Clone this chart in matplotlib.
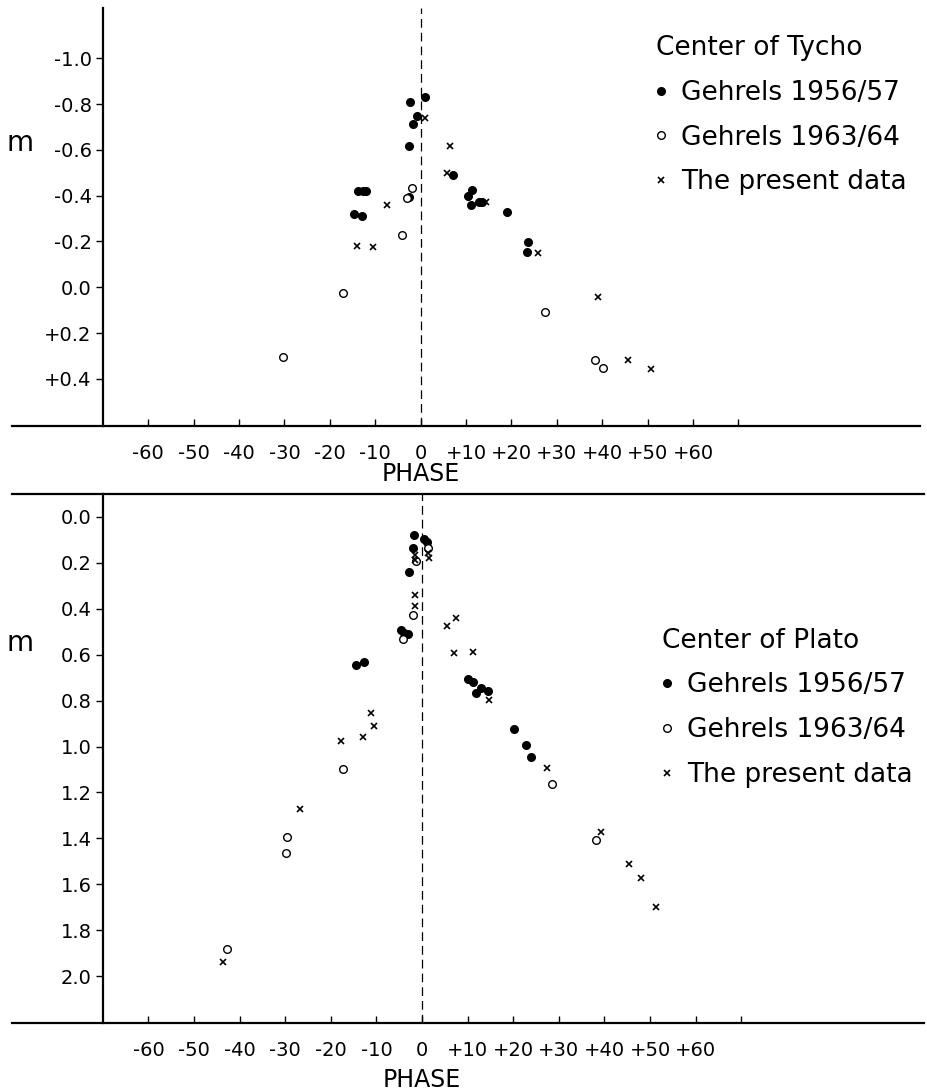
import numpy as np
import matplotlib.pyplot as plt

plt.rcParams['font.family'] = ['DejaVu Sans']

# Center of Tycho
tycho_57_x = [-2.3, 0.9, -0.8, -1.7, -2.6, -13.7, -12.7, -12.0, -14.7, -12.8, -2.6, 7.1,
              10.4, 11.4, 11.1, 12.8, 13.6, 19.1, 23.7, 23.4]
tycho_57_y = [-0.81, -0.83, -0.75, -0.715, -0.615, -0.42, -0.42, -0.42, -0.32, -0.31, -0.395, -0.49,
              -0.40, -0.425, -0.36, -0.373, -0.373, -0.327, -0.196, -0.154]
tycho_64_x = [-2.0, -3.1, -4.0, -17.2, -30.4, 27.3, 38.5, 40.2]
tycho_64_y = [-0.435, -0.39, -0.23, 0.026, 0.306, 0.11, 0.317, 0.351]
tycho_new_x = [1.0, 6.4, 5.9, -7.4, -13.9, -10.5, 14.4, 25.9, 39.1, 45.6, 50.8]
tycho_new_y = [-0.74, -0.617, -0.498, -0.36, -0.18, -0.175, -0.371, -0.148, 0.041, 0.317, 0.358]

# Center of Plato
plato_57_x = [-1.75, 0.5, 1.0, -2.0, -2.8, -4.6, -3.9, -3.1, -14.5, -12.7,
              10.0, 11.1, 12.9, 11.8, 14.5, 20.1, 22.9, 23.9]
plato_57_y = [0.077, 0.096, 0.11, 0.135, 0.241, 0.494, 0.505, 0.512, 0.645, 0.632,
              0.706, 0.719, 0.745, 0.767, 0.757, 0.925, 0.995, 1.046]
plato_64_x = [1.25, -1.3, -1.9, -4.2, -17.3, -29.7, -29.8, -42.8, 28.4, 38.2]
plato_64_y = [0.135, 0.194, 0.426, 0.532, 1.10, 1.392, 1.465, 1.882, 1.163, 1.409]
plato_new_x = [1.4, 1.5, -1.5, -1.5, -1.5, -1.5, 5.4, 7.5, 7.0, 11.1, 14.8, 27.4,
               -11.25, -10.5, -12.9, -17.8, -26.75, -43.6, 39.2, 45.4, 48.0, 51.3]
plato_new_y = [0.157, 0.18, 0.164, 0.186, 0.339, 0.387, 0.474, 0.439, 0.593, 0.59, 0.796, 1.094,
               0.852, 0.91, 0.958, 0.978, 1.27, 1.94, 1.373, 1.51, 1.573, 1.70]

phase_ticks = np.arange(-60, 71, 10)
phase_labels = ['-60', '-50', '-40', '-30', '-20', '-10', '0', '+10', '+20', '+30', '+40', '+50', '+60', '']
tycho_ticks = [-1.0, -0.8, -0.6, -0.4, -0.2, 0.0, 0.2, 0.4]
tycho_labels = ['-1.0', '-0.8', '-0.6', '-0.4', '-0.2', '0.0', '+0.2', '+0.4']
plato_ticks = [0.0, 0.2, 0.4, 0.6, 0.8, 1.0, 1.2, 1.4, 1.6, 1.8, 2.0]
plato_labels = ['0.0', '0.2', '0.4', '0.6', '0.8', '1.0', '1.2', '1.4', '1.6', '1.8', '2.0']

W, H = 927, 1090
fig = plt.figure(figsize=(W / 100, H / 100), dpi=100)
ax1 = fig.add_axes([12 / W, 1 - 426 / H, 908 / W, 418 / H])
ax2 = fig.add_axes([11.6 / W, 1 - 1022.7 / H, 912 / W, 528.7 / H])


def style(ax, ylim, yticks, ylabels, top_line):
    ax.set_xlim(-90, 110)
    ax.set_ylim(*ylim)
    ax.spines['right'].set_visible(False)
    ax.spines['top'].set_visible(top_line)
    ax.spines['left'].set_position(('data', -70))
    for s in ax.spines.values():
        s.set_linewidth(1.6)
    ax.set_xticks(phase_ticks)
    ax.set_xticklabels(phase_labels, fontsize=14)
    ax.set_yticks(yticks)
    ax.set_yticklabels(ylabels, fontsize=14)
    ax.tick_params(axis='x', direction='in', length=5, width=1, pad=13)
    ax.tick_params(axis='y', direction='out', length=5, width=1, pad=3)
    ax.axvline(0, color='black', lw=0.9, ls=(0, (7, 4)), zorder=1)
    ax.set_xlabel('PHASE', fontsize=17)
    ax.set_ylabel('m', fontsize=20, rotation=0, va='center', ha='center')


def scatter3(ax, x57, y57, x64, y64, xn, yn):
    h1, = ax.plot(x57, y57, 'o', color='black', ms=5.5, ls='none', zorder=3)
    h2, = ax.plot(x64, y64, 'o', mfc='white', mec='black', mew=1.0, ms=5.5, ls='none', zorder=3)
    h3, = ax.plot(xn, yn, 'x', color='black', mew=1.2, ms=5, ls='none', zorder=4)
    return [h1, h2, h3]


labels = ['Gehrels 1956/57', 'Gehrels 1963/64', 'The present data']
leg_kw = dict(loc='upper left', frameon=False, fontsize=19, title_fontsize=19,
              alignment='left', handlelength=0.4, handletextpad=0.55, labelspacing=0.71,
              borderpad=0, borderaxespad=0)

style(ax1, (0.606, -1.22), tycho_ticks, tycho_labels, False)
ax1.xaxis.set_label_coords(0.45, -0.085)
ax1.yaxis.set_label_coords(0.009, 0.677)
hs = scatter3(ax1, tycho_57_x, tycho_57_y, tycho_64_x, tycho_64_y, tycho_new_x, tycho_new_y)
ax1.legend(hs, labels, title='Center of Tycho', bbox_to_anchor=(0.709, 0.935), **leg_kw)

style(ax2, (2.203, -0.10), plato_ticks, plato_labels, True)
ax2.xaxis.set_label_coords(0.45, -0.085)
ax2.yaxis.set_label_coords(0.009, 0.718)
hs = scatter3(ax2, plato_57_x, plato_57_y, plato_64_x, plato_64_y, plato_new_x, plato_new_y)
ax2.legend(hs, labels, title='Center of Plato', bbox_to_anchor=(0.713, 0.747), **leg_kw)

fig.savefig('out.png', dpi=100)
